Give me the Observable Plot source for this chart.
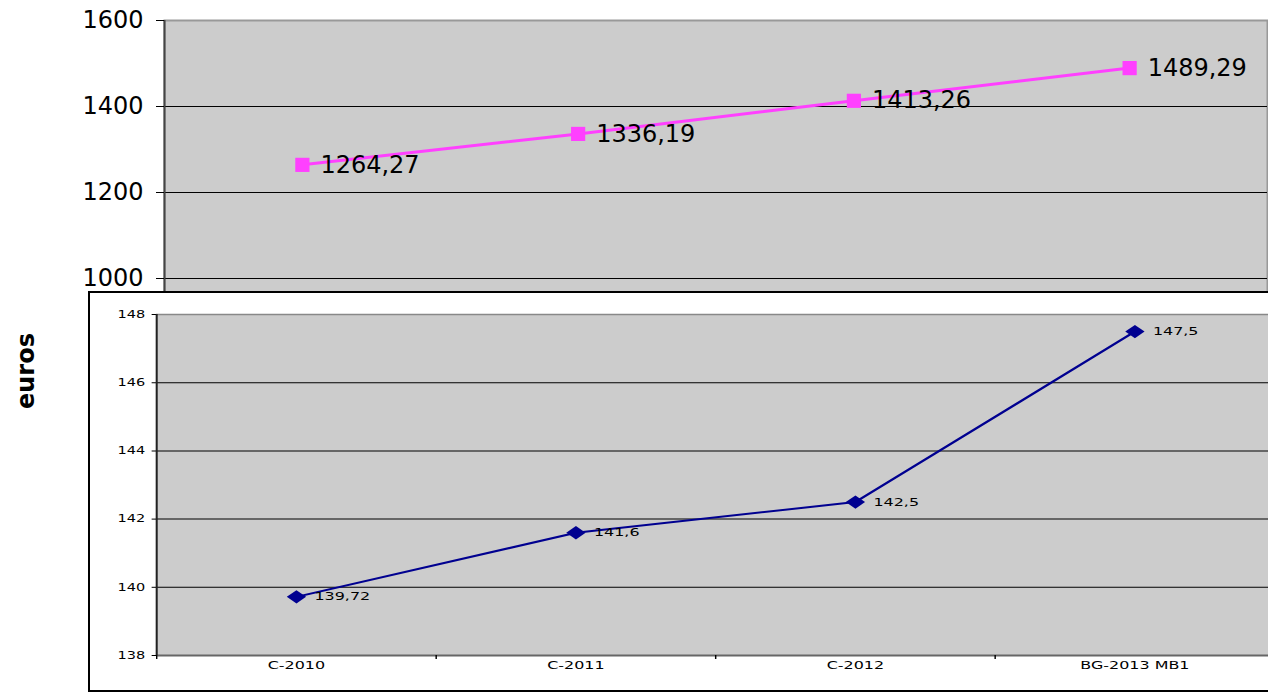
<!DOCTYPE html>
<html><head><meta charset="utf-8">
<script src="https://cdn.jsdelivr.net/npm/d3@7"></script>
<script src="https://cdn.jsdelivr.net/npm/@observablehq/plot@0.6"></script>
<style>
body{margin:0;background:#fff;font-family:"DejaVu Sans",sans-serif}
#wrap{position:relative;width:1268px;height:693px;overflow:hidden;background:#fff}
#top{position:absolute;left:0;top:0}
#inset{position:absolute;left:88px;top:291px;width:1200px;height:397px;border:2px solid #000;background:#fff;overflow:hidden}
#inset svg{position:absolute;left:0;top:0;transform:scaleX(1.45);transform-origin:0 0}
#euros{position:absolute;left:26px;top:371px;transform:translate(-50%,-50%) rotate(-90deg);font:bold 24px "DejaVu Sans";white-space:nowrap;color:#000}
</style></head>
<body>
<div id="wrap">
  <div id="top"></div>
  <div id="euros">euros</div>
  <div id="inset"></div>
</div>
<script>
const categories = ["C-2010", "C-2011", "C-2012", "BG-2013 MB1"];
const totalValues = [1264.27, 1336.19, 1413.26, 1489.29];
const insetValues = [139.72, 141.6, 142.5, 147.5];
const topTicks = [1000, 1200, 1400, 1600];
const insetTicks = [138, 140, 142, 144, 146, 148];

const fmt = v => String(v).replace(".", ",");
const topData = categories.map((c, i) => ({c, x: i + 0.5, v: totalValues[i]}));
const insetData = categories.map((c, i) => ({c, x: i + 0.5, v: insetValues[i]}));
const n = categories.length;

const pink = "#ff40ff";
const navy = "#000090";

const topPlot = Plot.plot({
  width: 1268, height: 400,
  marginLeft: 164, marginRight: 1, marginTop: 20, marginBottom: 36,
  style: {fontFamily: "DejaVu Sans", background: "transparent", color: "#000"},
  x: {domain: [0, n], axis: null},
  y: {domain: [800, 1600], label: null},
  marks: [
    Plot.frame({fill: "#cccccc", stroke: "#999", strokeWidth: 2}),
    Plot.gridY(topTicks.filter(t => t < 1600), {stroke: "#000", strokeOpacity: 1, strokeWidth: 1}),
    Plot.ruleX([0], {stroke: "#444", strokeWidth: 2}),
    Plot.axisY({ticks: topTicks, tickSize: 8, tickPadding: 13, fontSize: 24, tickFormat: d => String(d), label: null}),
    Plot.line(topData, {x: "x", y: "v", stroke: pink, strokeWidth: 3}),
    Plot.dot(topData, {x: "x", y: "v", symbol: "square", r: 8, fill: pink, stroke: "none"}),
    Plot.text(topData, {x: "x", y: "v", text: d => fmt(d.v), dx: 18, textAnchor: "start", fontSize: 24, fill: "#000"})
  ]
});
document.getElementById("top").appendChild(topPlot);

const insetPlot = Plot.plot({
  width: 830, height: 397,
  marginLeft: 45.5, marginRight: 13.5, marginTop: 21, marginBottom: 35,
  style: {fontFamily: "DejaVu Sans", background: "transparent", color: "#000"},
  x: {domain: [0, n], label: null},
  y: {domain: [138, 148], label: null},
  marks: [
    Plot.frame({fill: "#cccccc"}),
    Plot.gridY(insetTicks.filter(t => t > 138 && t < 148), {stroke: "#000", strokeOpacity: 1, strokeWidth: 1}),
    Plot.ruleY([148], {stroke: "#888", strokeWidth: 1.5}),
    Plot.ruleY([138], {stroke: "#666", strokeWidth: 2}),
    Plot.ruleX([0], {stroke: "#222", strokeWidth: 1.4}),
    Plot.axisY({ticks: insetTicks, tickSize: 3, tickPadding: 5, fontSize: 10, tickFormat: d => String(d), label: null}),
    Plot.axisX({ticks: d3.range(n + 1), tickSize: 4, tickFormat: () => "", label: null}),
    Plot.text(insetData, {x: "x", text: "c", frameAnchor: "bottom", dy: 13, fontSize: 11, fill: "#000"}),
    Plot.line(insetData, {x: "x", y: "v", stroke: navy, strokeWidth: 2}),
    Plot.dot(insetData, {x: "x", y: "v", symbol: "diamond2", r: 6, fill: navy, stroke: "none"}),
    Plot.text(insetData, {x: "x", y: "v", text: d => fmt(d.v), dx: 12.4, textAnchor: "start", fontSize: 11, fill: "#000"})
  ]
});
document.getElementById("inset").appendChild(insetPlot);
</script>
</body></html>
